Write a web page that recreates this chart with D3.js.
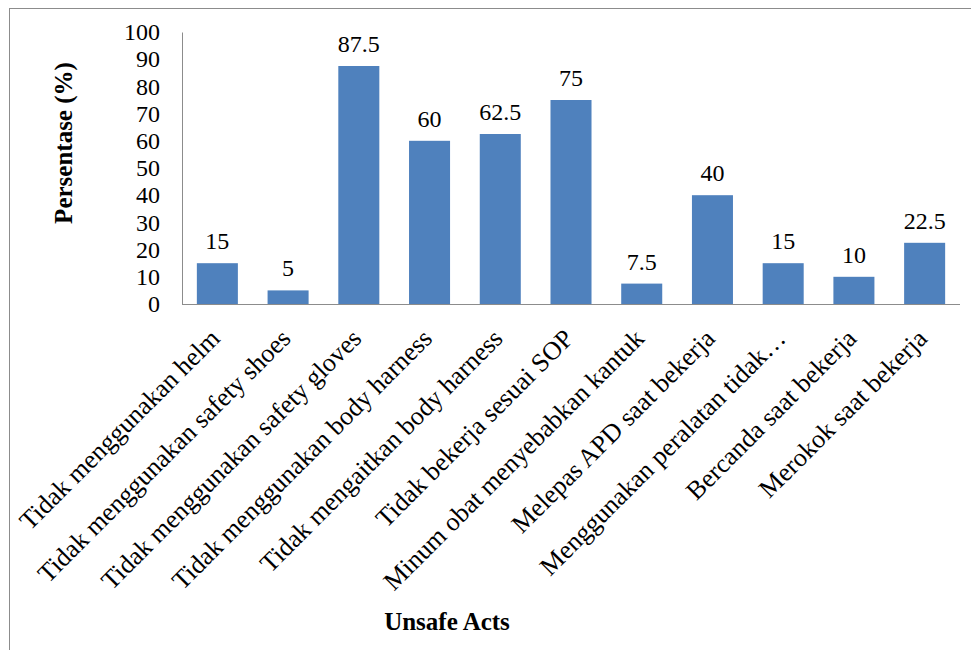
<!DOCTYPE html>
<html>
<head>
<meta charset="utf-8">
<script src="https://cdn.jsdelivr.net/npm/d3@7"></script>
<style>
  body { margin: 0; background: #fff; }
</style>
</head>
<body>
<div id="container"></div>
<script>
const width = 971,
  height = 650,
  margin = { top: 32, bottom: 346, left: 182, right: 11 },
  font = '"Liberation Serif", "Times New Roman", serif';

/** -------------- DATA -------------- */

const categories = [
  "Tidak menggunakan helm",
  "Tidak menggunakan safety shoes",
  "Tidak menggunakan safety gloves",
  "Tidak menggunakan body harness",
  "Tidak mengaitkan body harness",
  "Tidak bekerja sesuai SOP",
  "Minum obat menyebabkan kantuk",
  "Melepas APD saat bekerja",
  "Menggunakan peralatan tidak…",
  "Bercanda saat bekerja",
  "Merokok saat bekerja"
];
const values = [15, 5, 87.5, 60, 62.5, 75, 7.5, 40, 15, 10, 22.5];
const yTicks = [0, 10, 20, 30, 40, 50, 60, 70, 80, 90, 100];

/** -------------- SCALES -------------- */

const x = d3.scaleBand(categories, [margin.left, width - margin.right])
  .paddingInner(0.42)
  .paddingOuter(0.21);

const y = d3.scaleLinear([0, 100], [height - margin.bottom, margin.top]);

/** -------------- DRAW -------------- */

const svg = d3.select("#container")
  .append("svg")
  .attr("width", width)
  .attr("height", height)
  .style("font-family", font);

// outer frame
svg.append("rect")
  .attr("x", 9.5).attr("y", 8.5)
  .attr("width", width).attr("height", height)
  .attr("fill", "none")
  .attr("stroke", "#8c8c8c");

// bars
svg.selectAll("rect.bar")
    .data(values)
  .join("rect")
    .attr("class", "bar")
    .attr("x", (d, i) => x(categories[i]))
    .attr("y", d => y(d))
    .attr("width", x.bandwidth())
    .attr("height", d => y(0) - y(d))
    .attr("fill", "#4f81bd");

// value labels
svg.selectAll("text.val")
    .data(values)
  .join("text")
    .attr("class", "val")
    .attr("x", (d, i) => x(categories[i]) + x.bandwidth() / 2)
    .attr("y", d => y(d) - 14)
    .attr("text-anchor", "middle")
    .attr("font-size", 24)
    .style("font-family", font)
    .text(d => d);

// y axis
const yAxis = svg.append("g")
  .attr("transform", `translate(${margin.left},0)`)
  .call(d3.axisLeft(y).tickValues(yTicks).tickSize(0).tickPadding(22));
yAxis.select(".domain").attr("stroke", "#8c8c8c");
yAxis.selectAll("text")
  .attr("font-size", 24)
  .style("font-family", font)
  .attr("fill", "#000");

// x axis
const xAxis = svg.append("g")
  .attr("transform", `translate(0,${y(0)})`)
  .call(d3.axisBottom(x).tickSize(0).tickPadding(0));
xAxis.select(".domain").attr("stroke", "#8c8c8c").attr("d", `M${margin.left},0.5H${width - margin.right}`);
xAxis.selectAll("text")
  .attr("font-size", 26)
  .style("font-family", font)
  .attr("fill", "#000")
  .attr("text-anchor", "end")
  .attr("y", 0)
  .attr("dy", 0)
  .attr("transform", "translate(4,36) rotate(-45)");

// axis titles
svg.append("text")
  .attr("transform", `translate(72,143) rotate(-90)`)
  .attr("text-anchor", "middle")
  .attr("font-size", 25)
  .attr("font-weight", "bold")
  .style("font-family", font)
  .text("Persentase (%)");

svg.append("text")
  .attr("x", 447)
  .attr("y", 630)
  .attr("text-anchor", "middle")
  .attr("font-size", 25)
  .attr("font-weight", "bold")
  .style("font-family", font)
  .text("Unsafe Acts");
</script>
</body>
</html>
